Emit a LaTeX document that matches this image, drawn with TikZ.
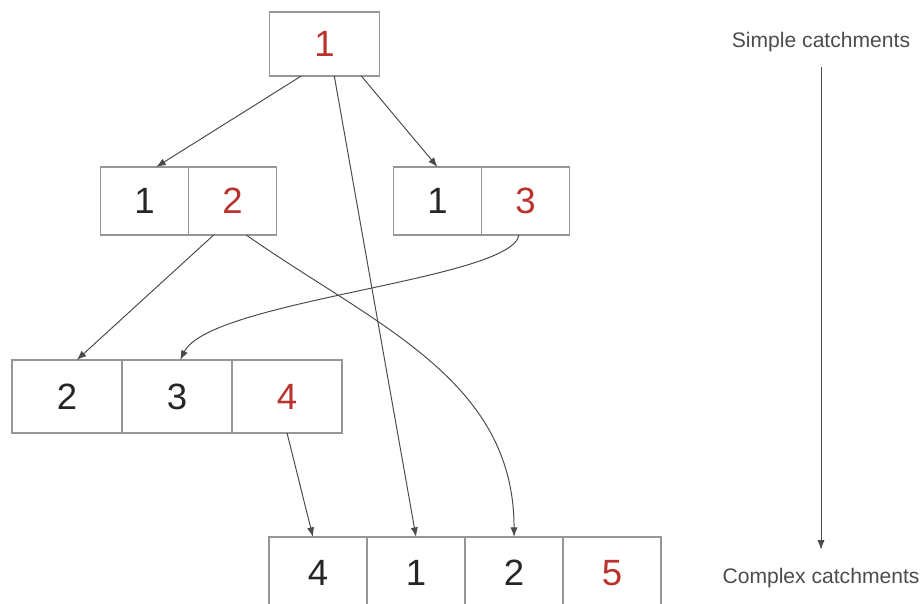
\documentclass[tikz,border=0pt]{standalone}
\usepackage{fontspec}
\setmainfont{Liberation Sans}
\usepackage{xcolor}
\usetikzlibrary{positioning,arrows.meta}
\definecolor{numred}{RGB}{185,50,45}
\definecolor{boxgray}{RGB}{150,150,150}
\definecolor{linkgray}{RGB}{75,75,75}

\begin{document}
\begin{tikzpicture}[x=0.025cm,y=-0.025cm,
    cell/.style={draw=boxgray,line width=0.9pt,outer sep=0pt,inner sep=0pt,
        font=\fontsize{26}{30}\selectfont,text=black!85},
    topcell/.style={minimum width=2.75cm,minimum height=1.6cm},
    midcell/.style={minimum width=2.2cm,minimum height=1.7cm},
    lowcell/.style={minimum width=2.75cm,minimum height=1.825cm},
    botcell/.style={minimum width=2.45cm,minimum height=1.8cm},
    new/.style={text=numred},
    link/.style={draw=linkgray,line width=0.7pt,-{Latex[length=2.4mm,width=1.8mm]}},
    side/.style={font=\fontsize{15}{18}\selectfont,text=black!70}]
\useasboundingbox (0,0) rectangle (924,603);
% first level
\node[cell,topcell,new] (t) at (324.5,44) {1};
% second level
\node[cell,midcell] (a1) at (144.5,201) {1};
\node[cell,midcell,new,right=0pt of a1] (a2) {2};
\node[cell,midcell] (b1) at (437.5,201) {1};
\node[cell,midcell,new,right=0pt of b1] (b2) {3};
% third level
\node[cell,lowcell] (c1) at (67,396.5) {2};
\node[cell,lowcell,right=0pt of c1] (c2) {3};
\node[cell,lowcell,new,right=0pt of c2] (c3) {4};
% fourth level
\node[cell,botcell] (d1) at (318,573) {4};
\node[cell,botcell,right=0pt of d1] (d2) {1};
\node[cell,botcell,right=0pt of d2] (d3) {2};
\node[cell,botcell,new,right=0pt of d3] (d4) {5};
% links
\draw[link] (t.234) -- (a1.71);
\draw[link] (t.-73) -- (d2.north);
\draw[link] (t.-41) -- (b1.north);
\draw[link] (a2.-119) -- (c1.75);
\draw[link] (a2.-68) to[out=-35,in=90] (d3.north);
\draw[link] (b2.-101) .. controls (512,280) and (210,300) .. (c2.85);
\draw[link] (c3.south) -- (d1.98);
% side scale
\node[side] (simple) at (821,42.5) {Simple catchments};
\node[side] (complex) at (821,578.5) {Complex catchments};
\draw[draw=linkgray,line width=0.6pt,-{Latex[length=2.4mm,width=1.8mm]},
    shorten <=7pt,shorten >=10pt] (simple) -- (complex);
\end{tikzpicture}
\end{document}
